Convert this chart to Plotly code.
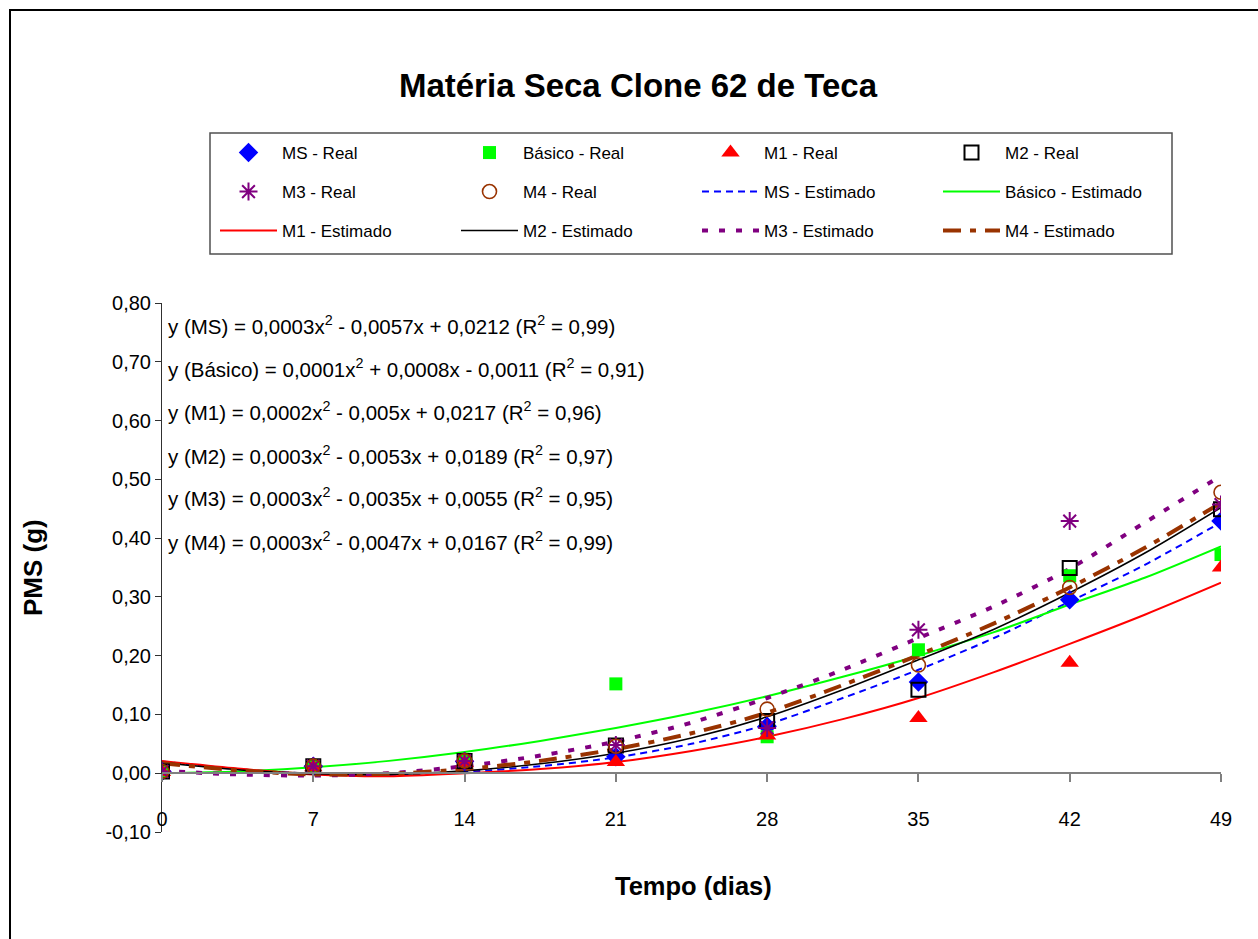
import plotly.graph_objects as go

# ---------------- data ----------------
days_real = [0, 7, 14, 21, 28, 35, 42, 49]
ms_real = [0.003, 0.012, 0.020, 0.028, 0.080, 0.155, 0.295, 0.429]
basico_real = [0.003, 0.012, 0.020, 0.152, 0.062, 0.210, 0.336, 0.372]
m1_real = [0.002, 0.010, 0.018, 0.019, 0.064, 0.094, 0.188, 0.350]
m2_real = [0.003, 0.012, 0.021, 0.047, 0.089, 0.142, 0.349, 0.449]
m3_real = [0.003, 0.012, 0.021, 0.048, 0.077, 0.244, 0.429, 0.457]
m4_real = [0.003, 0.012, 0.021, 0.046, 0.109, 0.184, 0.316, 0.478]

days_est = [0, 3.5, 7, 10.5, 14, 17.5, 21, 24.5, 28, 31.5, 35, 38.5, 42, 45.5, 49]
ms_est = [0.020, 0.007, -0.001, -0.003, 0.002, 0.012, 0.027, 0.050, 0.083, 0.128, 0.176, 0.230, 0.292, 0.355, 0.427]
basico_est = [0.000, 0.003, 0.010, 0.021, 0.036, 0.055, 0.077, 0.102, 0.131, 0.164, 0.200, 0.240, 0.287, 0.333, 0.386]
m1_est = [0.021, 0.008, -0.002, -0.005, 0.000, 0.007, 0.019, 0.038, 0.062, 0.092, 0.128, 0.172, 0.220, 0.270, 0.324]
m2_est = [0.018, 0.006, -0.001, -0.002, 0.004, 0.016, 0.034, 0.060, 0.096, 0.142, 0.193, 0.245, 0.307, 0.375, 0.452]
m3_est = [0.004, -0.002, -0.004, 0.000, 0.012, 0.030, 0.054, 0.086, 0.128, 0.176, 0.230, 0.284, 0.348, 0.427, 0.506]
m4_est = [0.017, 0.005, -0.002, -0.001, 0.007, 0.021, 0.041, 0.068, 0.103, 0.150, 0.201, 0.255, 0.316, 0.384, 0.460]

x_ticks = [0, 7, 14, 21, 28, 35, 42, 49]
y_ticks = [-0.10, 0.00, 0.10, 0.20, 0.30, 0.40, 0.50, 0.60, 0.70, 0.80]
y_tick_labels = ["-0,10", "0,00", "0,10", "0,20", "0,30", "0,40", "0,50", "0,60", "0,70", "0,80"]

equations = [
    "y (MS) = 0,0003x<sup>2</sup> - 0,0057x + 0,0212 (R<sup>2</sup> = 0,99)",
    "y (Básico) = 0,0001x<sup>2</sup> + 0,0008x - 0,0011 (R<sup>2</sup> = 0,91)",
    "y (M1) = 0,0002x<sup>2</sup> - 0,005x + 0,0217 (R<sup>2</sup> = 0,96)",
    "y (M2) = 0,0003x<sup>2</sup> - 0,0053x + 0,0189 (R<sup>2</sup> = 0,97)",
    "y (M3) = 0,0003x<sup>2</sup> - 0,0035x + 0,0055 (R<sup>2</sup> = 0,95)",
    "y (M4) = 0,0003x<sup>2</sup> - 0,0047x + 0,0167 (R<sup>2</sup> = 0,99)",
]

FONT = "Liberation Sans, Arial, sans-serif"
W, H = 1258, 939
L, R, T, B = 162, 37, 303, 107
PW, PH = W - L - R, H - T - B


def px_x(px):
    return (px - L) / PW


def px_y(py):
    return (H - B - py) / PH


fig = go.Figure()

# estimated curves (drawn first, under the markers)
est_specs = [
    ("MS - Estimado", ms_est, dict(color="#0000FF", width=2, dash="7px,5px"), "legend2", 7),
    ("Básico - Estimado", basico_est, dict(color="#00FF00", width=2), "legend2", 8),
    ("M1 - Estimado", m1_est, dict(color="#FF0000", width=2), "legend3", 9),
    ("M2 - Estimado", m2_est, dict(color="#000000", width=1.6), "legend3", 10),
    ("M3 - Estimado", m3_est, dict(color="#800080", width=4, dash="6px,11px"), "legend3", 11),
    ("M4 - Estimado", m4_est, dict(color="#993300", width=4, dash="18px,9px,6px,9px"), "legend3", 12),
]
for name, vals, line, leg, rank in est_specs:
    fig.add_trace(go.Scatter(
        x=days_est, y=vals, mode="lines", name=name,
        line=dict(shape="spline", smoothing=0.8, **line),
        legend=leg, legendrank=rank,
    ))

real_specs = [
    ("MS - Real", ms_real, dict(symbol="diamond", size=15, color="#0000FF"), "legend", 1),
    ("Básico - Real", basico_real, dict(symbol="square", size=13, color="#00FF00"), "legend", 2),
    ("M1 - Real", m1_real, dict(symbol="triangle-up", size=16, color="#FF0000"), "legend", 3),
    ("M2 - Real", m2_real, dict(symbol="square-open", size=14, color="#000000", line=dict(width=2, color="#000000")), "legend", 4),
    ("M3 - Real", m3_real, dict(symbol="asterisk-open", size=15, color="#800080", line=dict(width=2, color="#800080")), "legend2", 5),
    ("M4 - Real", m4_real, dict(symbol="circle-open", size=14, color="#993300", line=dict(width=1.6, color="#993300")), "legend2", 6),
]
for name, vals, marker, leg, rank in real_specs:
    fig.add_trace(go.Scatter(
        x=days_real, y=vals, mode="markers", name=name,
        marker=marker, legend=leg, legendrank=rank,
    ))

# legends: one per row, same column grid (pitch = entrywidth + itemwidth + 15 = 241 px)
row_y = [153, 192, 231]
leg_common = dict(
    xref="container", yref="container", xanchor="left", yanchor="middle",
    orientation="h", entrywidth=169, entrywidthmode="pixels", itemwidth=57,
    font=dict(family=FONT, size=17, color="#000000"),
    bgcolor="rgba(0,0,0,0)", borderwidth=0, traceorder="normal",
)
legend_x = 215 / W

annotations = []
for i, eq in enumerate(equations):
    annotations.append(dict(
        text=eq, xref="paper", yref="paper", x=px_x(166), y=px_y([325, 368, 411, 455, 497, 541][i]),
        xanchor="left", yanchor="middle", showarrow=False,
        font=dict(family=FONT, size=20.5, color="#000000"),
    ))
annotations.append(dict(
    text="<b>Tempo (dias)</b>", xref="paper", yref="paper", x=px_x(693), y=px_y(886),
    xanchor="center", yanchor="middle", showarrow=False,
    font=dict(family=FONT, size=25.5, color="#000000"),
))
annotations.append(dict(
    text="<b>PMS (g)</b>", xref="paper", yref="paper", x=px_x(33), y=px_y(568),
    xanchor="center", yanchor="middle", showarrow=False, textangle=-90,
    font=dict(family=FONT, size=26, color="#000000"),
))

shapes = [
    # outer frame
    dict(type="rect", xref="paper", yref="paper",
         x0=px_x(10), x1=px_x(1264), y0=px_y(945), y1=px_y(10),
         line=dict(color="#000000", width=2), fillcolor="rgba(0,0,0,0)", layer="below"),
    # legend frame
    dict(type="rect", xref="paper", yref="paper",
         x0=px_x(210), x1=px_x(1172), y0=px_y(254), y1=px_y(133),
         line=dict(color="#505050", width=1.5), fillcolor="rgba(0,0,0,0)", layer="below"),
]

fig.update_layout(
    width=W, height=H,
    margin=dict(l=L, r=R, t=T, b=B, pad=0),
    paper_bgcolor="#FFFFFF", plot_bgcolor="#FFFFFF",
    font=dict(family=FONT, color="#000000"),
    title=dict(text="<b>Matéria Seca Clone 62 de Teca</b>", xref="container", yref="container",
               x=638 / W, y=1 - 85 / H, xanchor="center", yanchor="middle",
               font=dict(family=FONT, size=33, color="#000000")),
    legend=dict(x=legend_x, y=1 - row_y[0] / H, **leg_common),
    legend2=dict(x=legend_x, y=1 - row_y[1] / H, **leg_common),
    legend3=dict(x=legend_x, y=1 - row_y[2] / H, **leg_common),
    annotations=annotations,
    shapes=shapes,
    showlegend=True,
)

fig.update_xaxes(
    range=[0, 49], tickmode="array", tickvals=x_ticks, ticktext=[str(v) for v in x_ticks],
    showgrid=False, zeroline=False, showline=True, linecolor="#808080", linewidth=2,
    ticks="outside", ticklen=8, tickwidth=1.5, tickcolor="#808080",
    anchor="free", position=1 / 9, ticklabelstandoff=20,
    tickfont=dict(family=FONT, size=20, color="#000000"), automargin=False,
)
fig.update_yaxes(
    range=[-0.1, 0.8], tickmode="array", tickvals=y_ticks, ticktext=y_tick_labels,
    showgrid=False, zeroline=False, showline=True, linecolor="#303030", linewidth=1,
    ticks="outside", ticklen=6, tickwidth=1, tickcolor="#303030",
    tickfont=dict(family=FONT, size=20, color="#000000"), automargin=False,
)

fig.write_html("out.html")
